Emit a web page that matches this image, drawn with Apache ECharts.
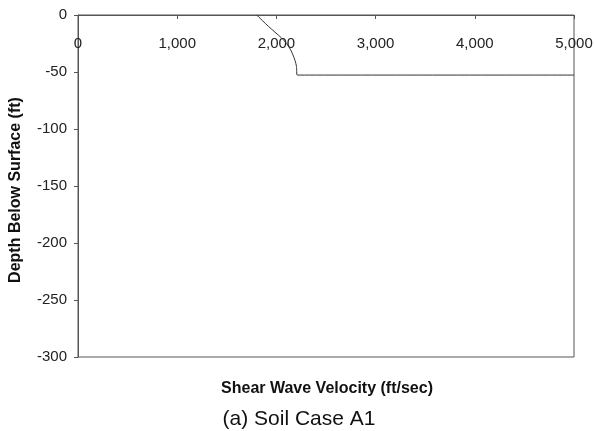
<!DOCTYPE html>
<html lang="en">
<head>
    <meta charset="UTF-8">
    <title>Soil Case A1</title>
    <script src="https://cdn.jsdelivr.net/npm/echarts@6/dist/echarts.min.js"></script>
    <style>
        body, html {
            margin: 0;
            padding: 0;
            width: 100%;
            height: 100%;
            background: #fff;
        }
        #chart {
            width: 594px;
            height: 431px;
        }
    </style>
</head>
<body>
    <div id="chart"></div>
    <script>
        // profile: velocity (ft/sec) vs depth (ft)
        var velocity = [1802, 1860, 1920, 1985, 2050, 2103, 2140, 2167, 2188, 2202, 2210, 5000];
        var depth = [0, -5, -10, -15, -20, -25, -30, -35, -40, -45, -52.7, -52.7];
        var xTicks = [0, 1000, 2000, 3000, 4000, 5000];
        var yTicks = [0, -50, -100, -150, -200, -250, -300];

        var points = velocity.map(function (v, i) { return [v, depth[i]]; });
        var fontFam = 'Arial, "Liberation Sans", sans-serif';

        var chart = echarts.init(document.getElementById('chart'));
        chart.setOption({
            backgroundColor: '#fff',
            animation: false,
            grid: {
                left: 78, right: 20, top: 15, bottom: 74,
                outerBoundsMode: 'none',
                show: true, borderColor: '#555', borderWidth: 1
            },
            xAxis: {
                type: 'value',
                position: 'top',
                min: xTicks[0], max: xTicks[xTicks.length - 1], interval: 1000,
                axisLine: { show: true, lineStyle: { color: '#555' } },
                axisTick: { show: true, inside: true, length: 4, lineStyle: { color: '#555' } },
                splitLine: { show: false },
                axisLabel: {
                    inside: true, margin: 21,
                    color: '#222', fontSize: 15, fontFamily: fontFam,
                    formatter: function (v) { return v.toLocaleString('en-US'); }
                }
            },
            yAxis: {
                type: 'value',
                min: yTicks[yTicks.length - 1], max: yTicks[0], interval: 50,
                axisLine: { show: true, lineStyle: { color: '#555' } },
                axisTick: { show: true, length: 4, lineStyle: { color: '#555' } },
                splitLine: { show: false },
                axisLabel: { margin: 11, color: '#222', fontSize: 15, fontFamily: fontFam }
            },
            graphic: [
                {
                    type: 'text', rotation: Math.PI / 2,
                    x: 16, y: 190,
                    style: {
                        text: 'Depth Below Surface (ft)', fill: '#111',
                        font: 'bold 16px ' + fontFam, align: 'center', verticalAlign: 'middle'
                    }
                },
                {
                    type: 'text', x: 327, y: 389,
                    style: {
                        text: 'Shear Wave Velocity (ft/sec)', fill: '#111',
                        font: 'bold 16px ' + fontFam, align: 'center', verticalAlign: 'middle'
                    }
                },
                {
                    type: 'text', x: 299, y: 419,
                    style: {
                        text: '(a) Soil Case A1', fill: '#111',
                        font: '21px ' + fontFam, align: 'center', verticalAlign: 'middle'
                    }
                }
            ],
            series: [{
                type: 'line',
                data: points,
                smooth: 0.3,
                showSymbol: false,
                lineStyle: { color: '#333', width: 1 }
            }]
        });
    </script>
</body>
</html>
